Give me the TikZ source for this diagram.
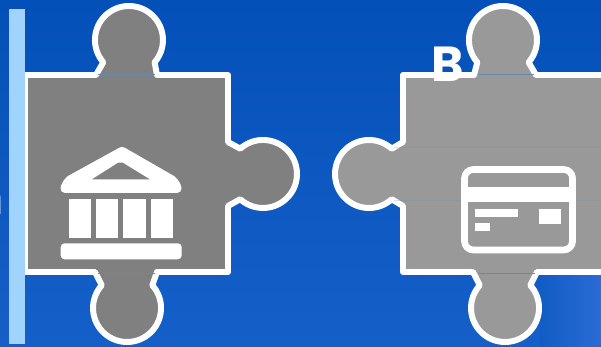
\documentclass[tikz,border=0pt]{standalone}
\usepackage{fontspec}
\setmainfont{Poppins}
\usetikzlibrary{positioning}
\definecolor{barblue}{HTML}{A0D4FF}
\definecolor{skytop}{HTML}{0450B9}
\definecolor{skybottom}{HTML}{1560C8}
\definecolor{glowblue}{HTML}{2A6BD6}
\definecolor{seamblue}{HTML}{6488B4}
\tikzset{
    piece/.style={draw=white, line width=3.4pt, line join=round},
    seam/.style={seamblue, line width=0.3pt},
    icon/.style={fill=white, draw=none},
    lettering/.style={text=white, font=\bfseries\fontsize{28}{30}\selectfont, inner sep=0pt}
}

\begin{document}
\begin{tikzpicture}[x=0.02cm, y=-0.02cm]
        \clip (0,0) rectangle (601,347);
        % Backdrop
        \shade[top color=skytop, bottom color=skybottom] (0,0) rectangle (601,347);
        \shade[left color=skybottom!80!skytop, right color=glowblue] (540,274) rectangle (601,347);
        % Left piece
        \draw[piece, fill=black!50] (25,75) -- (96,75) -- (103.3,62.3) arc[start angle=139, end angle=401, radius=34]
            -- (157,75) -- (228,75) -- (228,142) -- (240.25,148.7) arc[start angle=-132, end angle=132, radius=34]
            -- (228,206) -- (228,272) -- (157,272) -- (152.3,285.25) arc[start angle=-42, end angle=222, radius=34]
            -- (95,272) -- (25,272) -- cycle;
        \draw[seam] (98,74.5) -- (155,74.5);
        \draw[seam] (98,273) -- (155,273);
        % Right piece
        \draw[piece, fill=black!40] (403,75) -- (474,75) -- (477.3,62.3) arc[start angle=139, end angle=401, radius=34]
            -- (536,75) -- (620,75) -- (620,272) -- (537,272) -- (530.3,285.25) arc[start angle=-42, end angle=222, radius=34]
            -- (473,272) -- (403,272) -- (403,206) -- (391.75,199.27) arc[start angle=48, end angle=312, radius=34]
            -- (403,142) -- cycle;
        \draw[seam] (478,74.5) -- (534,74.5);
        \draw[seam] (478,273) -- (535,273);
        \draw[seam, opacity=0.25] (394,147) -- (601,147);
        \draw[seam, opacity=0.25] (394,200) -- (601,200);
        % Bar
        \fill[barblue] (9,9) rectangle (25,344);
        % Bank
        \fill[icon, even odd rule] (122,147) .. controls (124,147) and (125,148) .. (127,149) -- (174,176)
            .. controls (178,179) and (181,184) .. (181.5,188) .. controls (181.5,191) and (180,193) .. (177,193)
            -- (65,193) .. controls (62,193) and (60.5,191) .. (60.5,188) .. controls (61,184) and (64,179) .. (68,176)
            -- (117,149) .. controls (119,148) and (120,147) .. (122,147) -- cycle
            (91.7,179.3) -- (150,179.3) -- (123,162.7) -- (118,162.7) -- cycle;
        \fill[icon] (69,199) rectangle (91,237.7);
        \fill[icon] (96,199) rectangle (118,237.7);
        \fill[icon] (123,199) rectangle (146,237.7);
        \fill[icon] (151,199) rectangle (173,237.7);
        \fill[icon, rounded corners=2.2pt] (60.7,243.3) rectangle (181.7,259.3);
        % Card
        \draw[white, line width=3.8pt, rounded corners=5pt] (464.5,169.5) rectangle (572.5,250);
        \fill[icon] (464.5,187.3) rectangle (572.5,202);
        \fill[icon] (475,209) rectangle (518,217);
        \fill[icon] (475,223) rectangle (490,231);
        \fill[icon] (539,209) rectangle (561,224);
        % Labels
        \node[lettering, anchor=base west] (letterb) at (431,82) {B};
        \node[lettering, anchor=base east] (lettern) at (4.5,215) {n};
    \end{tikzpicture}
\end{document}
